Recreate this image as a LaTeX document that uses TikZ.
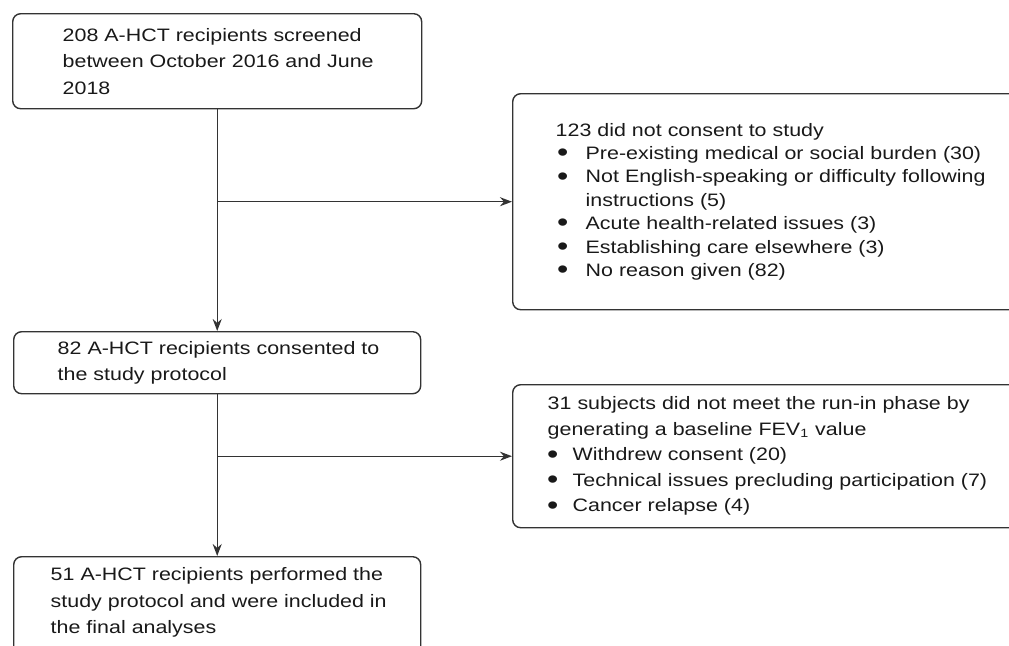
\documentclass[tikz,border=0pt]{standalone}
\usepackage{fontspec}
\setmainfont{Liberation Sans}[FakeStretch=1.19]
\usetikzlibrary{arrows.meta}
\newcommand{\nowr}{\rightskip=0pt plus 1fil minus 100pt\relax}
\newcommand{\itm}[2]{\makebox[#1][c]{\raisebox{-1.1pt}{\scalebox{1.5}{\textbullet}}}\hspace{#2}}
\begin{document}
\begin{tikzpicture}[x=0.5pt,y=-0.5pt,>={Stealth[length=6pt,width=4.5pt]},line join=round,
	box/.style={draw=black!80,line width=0.7pt,rounded corners=4pt,anchor=north west,align=left,inner sep=0pt,text=black!90},
	link/.style={->,draw=black!80,line width=0.7pt}]
	\useasboundingbox (0,0) rectangle (1009,645);
	\clip (0,0) rectangle (1009,645);
	\node[box,minimum width=204.5pt,minimum height=47.5pt,text width=154.5pt,font=\fontsize{9}{13.3}\selectfont] (screen) at (12,13)
	{\nowr 208 A-HCT recipients screened\\between October 2016 and June\\2018};
	\node[box,minimum width=203.5pt,minimum height=31pt,text width=159.5pt,font=\fontsize{9}{13.3}\selectfont] (consent) at (13,331)
	{\nowr 82 A-HCT recipients consented to\\the study protocol};
	\node[box,minimum width=203.5pt,minimum height=62pt,text width=166.5pt,font=\fontsize{9}{13.3}\selectfont] (final) at (13,556)
	{\nowr 51 A-HCT recipients performed the\\study protocol and were included in\\the final analyses\par\vspace*{16pt}};
	\node[box,minimum width=263pt,minimum height=108pt,text width=220pt,font=\fontsize{9}{11.7}\selectfont] (refused) at (512,93)
	{\nowr 123 did not consent to study\\
	\itm{7pt}{8pt}Pre-existing medical or social burden (30)\\
	\itm{7pt}{8pt}Not English-speaking or difficulty following\\
	\hspace*{15pt}instructions (5)\\
	\itm{7pt}{8pt}Acute health-related issues (3)\\
	\itm{7pt}{8pt}Establishing care elsewhere (3)\\
	\itm{7pt}{8pt}No reason given (82)};
	\node[box,minimum width=255pt,minimum height=71.5pt,text width=220pt,font=\fontsize{9}{12.75}\selectfont] (runin) at (512,384)
	{\nowr 31 subjects did not meet the run-in phase by\\
	generating a baseline FEV\textsubscript{1} value\\
	\itm{5pt}{7.5pt}Withdrew consent (20)\\
	\itm{5pt}{7.5pt}Technical issues precluding participation (7)\\
	\itm{5pt}{7.5pt}Cancer relapse (4)};
	\draw[link] (screen.south) -- (consent.north);
	\draw[link] (consent.south) -- (final.north);
	\draw[link] (screen.south |- refused.west) -- (refused.west);
	\draw[link] (consent.south |- runin.west) -- (runin.west);
\end{tikzpicture}
\end{document}
